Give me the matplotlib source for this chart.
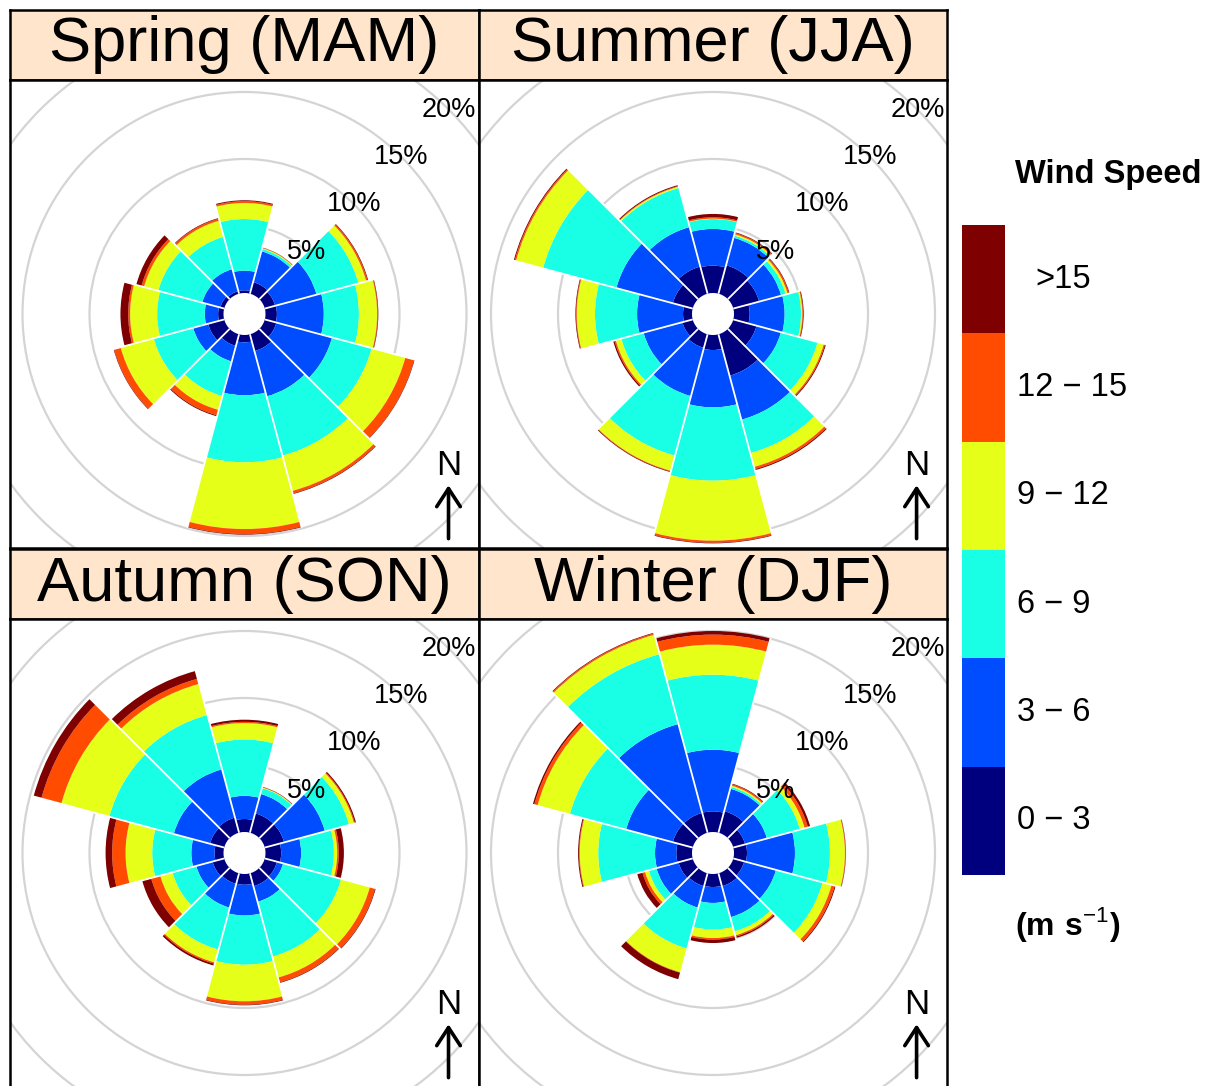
import matplotlib
matplotlib.use('Agg')
import matplotlib.pyplot as plt
import numpy as np
from matplotlib.patches import Wedge, Circle, Rectangle

plt.rcParams['font.family'] = ['Liberation Sans', 'DejaVu Sans']
plt.rcParams['mathtext.fontset'] = 'custom'
plt.rcParams['mathtext.rm'] = 'Liberation Sans'
plt.rcParams['mathtext.bf'] = 'Liberation Sans:bold'

# ---------------- data ----------------
directions = [0, 30, 60, 90, 120, 150, 180, 210, 240, 270, 300, 330]
speed_bins = ['0 − 3', '3 − 6', '6 − 9', '9 − 12', '12 − 15', '>15']
bin_colors = ['#00007F', '#004CFF', '#19FFE5', '#E5FF19', '#FF4C00', '#7F0000']
season_titles = ['Spring (MAM)', 'Summer (JJA)', 'Autumn (SON)', 'Winter (DJF)']
grid_pct = [5, 10, 15, 20]

# frequency (%) per direction (rows) and speed bin (columns)
spring_freq = [
    [0.20, 1.47, 3.85, 1.20, 0.13, 0.07],
    [0.90, 2.38, 0.18, 0.06, 0.03, 0.02],
    [0.80, 3.20, 3.24, 0.60, 0.11, 0.05],
    [0.85, 3.50, 2.62, 1.36, 0.05, 0.04],
    [0.90, 4.30, 3.06, 2.61, 0.67, 0.04],
    [1.30, 3.50, 4.58, 2.73, 0.19, 0.05],
    [0.55, 3.95, 5.00, 4.98, 0.37, 0.05],
    [0.90, 1.20, 2.68, 1.07, 0.42, 0.07],
    [1.25, 1.15, 3.05, 2.56, 0.50, 0.04],
    [0.40, 1.00, 3.55, 2.02, 0.14, 0.58],
    [0.30, 1.40, 3.40, 1.10, 0.20, 0.40],
    [0.20, 1.70, 2.50, 1.25, 0.15, 0.05],
]
summer_freq = [
    [2.04, 2.74, 0.74, 0.03, 0.10, 0.25],
    [2.20, 2.13, 0.17, 0.10, 0.10, 0.05],
    [2.00, 1.70, 0.35, 0.15, 0.10, 0.05],
    [1.17, 2.61, 1.22, 0.10, 0.05, 0.05],
    [1.80, 1.88, 2.84, 0.48, 0.09, 0.07],
    [3.20, 3.40, 2.58, 1.07, 0.17, 0.08],
    [1.12, 4.28, 5.47, 4.48, 0.15, 0.05],
    [1.05, 3.73, 4.60, 1.17, 0.05, 0.05],
    [0.80, 3.00, 1.72, 0.43, 0.10, 0.10],
    [0.67, 3.43, 3.14, 1.36, 0.05, 0.05],
    [1.54, 4.36, 5.67, 2.09, 0.10, 0.07],
    [2.10, 3.05, 3.03, 0.10, 0.05, 0.07],
]
autumn_freq = [
    [0.97, 1.73, 4.20, 1.23, 0.09, 0.16],
    [1.50, 1.50, 0.45, 0.05, 0.02, 0.03],
    [1.50, 3.15, 1.87, 0.38, 0.07, 0.09],
    [1.17, 1.49, 2.44, 0.25, 0.12, 0.38],
    [0.95, 0.47, 4.48, 2.23, 0.40, 0.05],
    [1.00, 1.20, 4.24, 1.62, 0.37, 0.05],
    [0.80, 2.30, 3.67, 2.73, 0.25, 0.05],
    [0.82, 1.84, 3.24, 1.00, 0.10, 0.14],
    [0.90, 1.26, 1.84, 0.95, 0.70, 0.69],
    [0.67, 1.73, 2.92, 1.99, 1.00, 0.49],
    [1.10, 2.80, 4.98, 3.71, 1.54, 0.60],
    [1.17, 3.73, 4.20, 2.40, 0.40, 0.60],
]
winter_freq = [
    [1.54, 4.60, 5.60, 2.24, 0.75, 0.27],
    [1.67, 1.73, 0.15, 0.10, 0.10, 0.05],
    [0.92, 1.68, 2.55, 0.37, 0.25, 0.18],
    [0.97, 3.58, 2.61, 1.12, 0.04, 0.03],
    [0.85, 2.45, 3.60, 0.70, 0.24, 0.07],
    [1.00, 2.40, 1.10, 0.30, 0.10, 0.10],
    [0.97, 1.19, 1.99, 0.63, 0.12, 0.25],
    [1.00, 1.66, 3.16, 1.84, 0.04, 0.50],
    [1.10, 1.70, 0.60, 0.30, 0.20, 0.40],
    [1.17, 1.59, 4.24, 1.38, 0.05, 0.07],
    [1.54, 3.61, 4.35, 2.50, 0.25, 0.11],
    [1.54, 6.86, 5.40, 1.50, 0.10, 0.05],
]
season_freqs = [spring_freq, summer_freq, autumn_freq, winter_freq]

# ---------------- layout ----------------
W, H = 1232, 1086
DPI = 100
fig = plt.figure(figsize=(W / DPI, H / DPI), dpi=DPI)
fig.patch.set_facecolor('white')

PX_PER_UNIT = 13.4      # pixels per 1 % of frequency
OFFSET = 21 / PX_PER_UNIT  # central hole radius (in % units)
SECTOR = 30


def fbox(x0, y0, x1, y1):
    return [x0 / W, 1 - y1 / H, (x1 - x0) / W, (y1 - y0) / H]


panel_cols = [(10, 479), (479, 947)]
panel_rows = [((10, 80), (80, 548)), ((549, 619), (619, 1087))]


def draw_rose(ax, freq):
    freq = np.asarray(freq)
    cum = np.cumsum(freq, axis=1)
    for r in grid_pct:
        ax.add_patch(Circle((0, 0), OFFSET + r, fill=False, ec='#D4D4D4', lw=1.6, zorder=1))
    for i, d in enumerate(directions):
        t1 = 90 - (d + SECTOR / 2)
        t2 = 90 - (d - SECTOR / 2)
        inner = OFFSET
        for j in range(len(speed_bins)):
            outer = OFFSET + cum[i, j]
            if outer > inner:
                ax.add_patch(Wedge((0, 0), outer, t1, t2, width=outer - inner,
                                   fc=bin_colors[j], ec='none', lw=0, zorder=2))
            inner = outer
    totals = cum[:, -1]
    n = len(directions)
    for i in range(n):
        b = directions[i] + SECTOR / 2
        rmax = OFFSET + max(totals[i], totals[(i + 1) % n]) + 0.05
        a = np.deg2rad(90 - b)
        ax.plot([OFFSET * np.cos(a), rmax * np.cos(a)], [OFFSET * np.sin(a), rmax * np.sin(a)],
                color='white', lw=1.3, zorder=3, solid_capstyle='butt')
    for r in grid_pct:
        a = np.deg2rad(45)
        ax.text((OFFSET + r) * np.cos(a), (OFFSET + r) * np.sin(a), f'{r}%',
                ha='center', va='center', fontsize=19.5, zorder=5, clip_on=True)
    # north arrow
    ax.text(0.935, 0.176, 'N', transform=ax.transAxes, ha='center', va='center',
            fontsize=25, zorder=6)
    ax.annotate('', xy=(0.935, 0.134), xytext=(0.935, 0.02), xycoords='axes fraction',
                arrowprops=dict(arrowstyle='->,head_length=1.3,head_width=0.85', lw=2.6,
                                color='black', shrinkA=0, shrinkB=0), zorder=6)


k = 0
for ri, (strip_y, panel_y) in enumerate(panel_rows):
    for ci, (x0, x1) in enumerate(panel_cols):
        sax = fig.add_axes(fbox(x0, strip_y[0], x1, strip_y[1]))
        sax.set_facecolor('#FFE5CC')
        sax.set_xticks([]); sax.set_yticks([])
        for sp in sax.spines.values():
            sp.set_linewidth(1.8)
        sax.text(0.5, 0.5, season_titles[k], transform=sax.transAxes, ha='center',
                 va='center', fontsize=45.5)

        ax = fig.add_axes(fbox(x0, panel_y[0], x1, panel_y[1]))
        hw = (x1 - x0) / 2 / PX_PER_UNIT
        hh = (panel_y[1] - panel_y[0]) / 2 / PX_PER_UNIT
        ax.set_xlim(-hw, hw)
        ax.set_ylim(-hh, hh)
        ax.set_xticks([]); ax.set_yticks([])
        for sp in ax.spines.values():
            sp.set_linewidth(1.8)
            sp.set_zorder(10)
        draw_rose(ax, season_freqs[k])
        k += 1

# ---------------- legend ----------------
lx0, ly0, lx1, ly1 = 962, 225, 1005, 875
lax = fig.add_axes(fbox(lx0, ly0, lx1, ly1))
for j, c in enumerate(bin_colors):
    lax.add_patch(Rectangle((0, j), 1, 1, fc=c, ec='none'))
lax.set_xlim(0, 1)
lax.set_ylim(0, len(bin_colors))
lax.axis('off')
block_h = (ly1 - ly0) / len(bin_colors)
for j, lab in enumerate(speed_bins):
    yc = ly1 - (j + 0.5) * block_h
    xl = 1035 if lab.startswith('>') else 1017
    fig.text(xl / W, 1 - yc / H, lab, ha='left', va='center', fontsize=23.5)

fig.text(1015 / W, 1 - 175 / H, 'Wind Speed', ha='left', va='center', fontsize=23.5,
         fontweight='bold')
fig.text(1015 / W, 1 - 925 / H, r'$\mathbf{(m\ s}^{-1}\mathbf{)}$', ha='left', va='center',
         fontsize=23)

fig.savefig('out.png', dpi=DPI, facecolor='white')
